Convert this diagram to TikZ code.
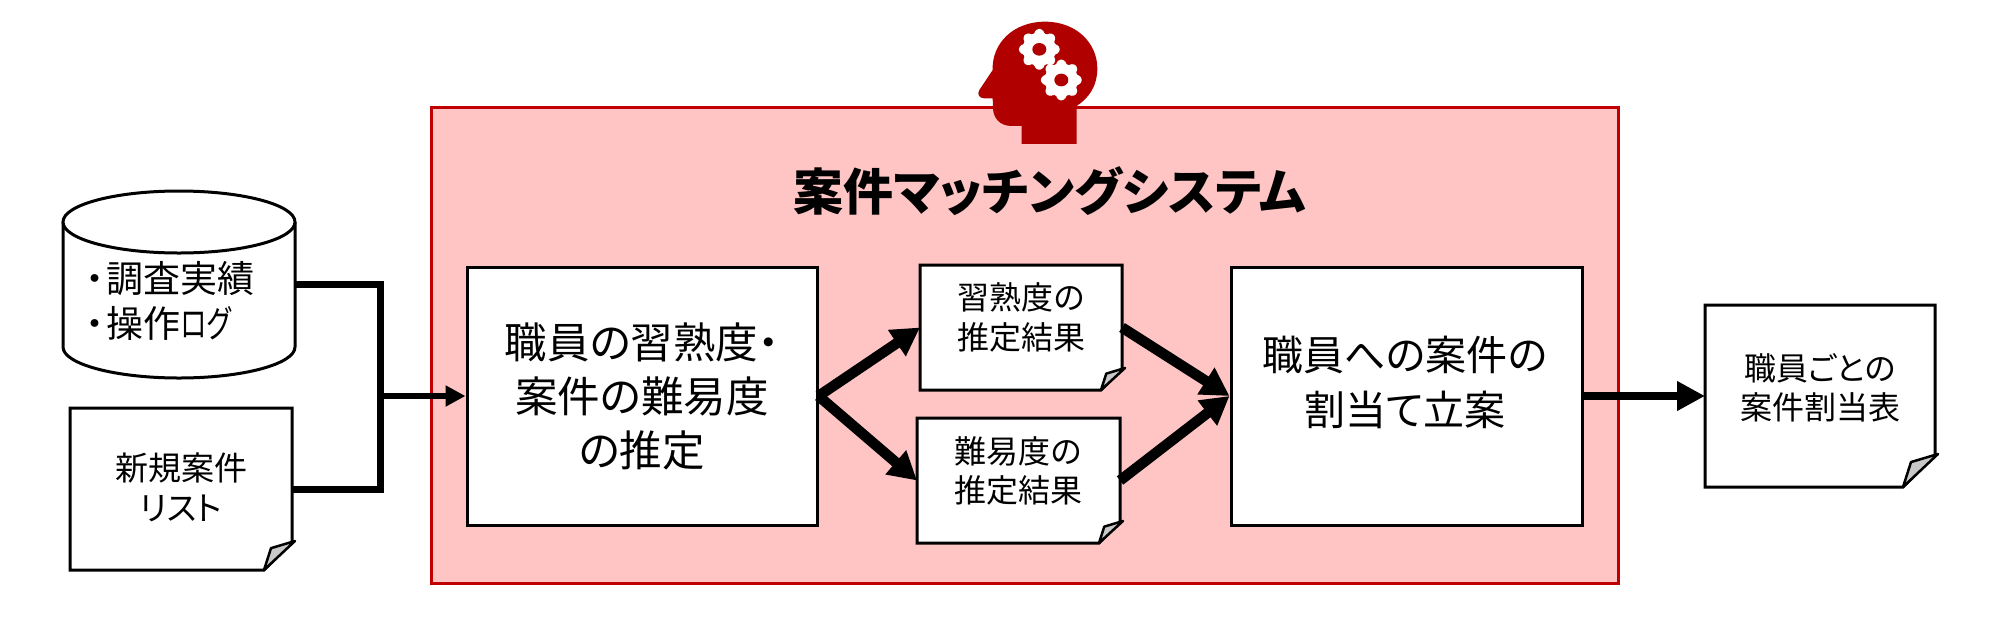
\documentclass[tikz,border=0pt]{standalone}
\usepackage{graphicx}
\usepackage{fontspec}
\usetikzlibrary{arrows.meta,calc}
\setmainfont{Noto Sans CJK JP}[RawFeature=+palt]
\definecolor{redline}{HTML}{C00000}
\definecolor{redfill}{HTML}{FFC5C5}
\definecolor{headred}{HTML}{B00000}
\definecolor{foldgrey}{HTML}{C8C8C8}
\tikzset{
  blockline/.style={draw=black,line width=3pt},
  procbox/.style={blockline,fill=white,inner sep=0pt},
  anchorbox/.style={inner sep=0pt,outer sep=0pt},
  bigtext/.style={inner sep=0pt,align=center,font=\fontsize{42.5}{54}\selectfont},
  plantext/.style={inner sep=0pt,align=center,font=\fontsize{41}{55}\selectfont},
  midtext/.style={inner sep=0pt,align=left,font=\fontsize{37}{45}\selectfont},
  smalltext/.style={inner sep=0pt,align=center,font=\fontsize{32}{39.5}\selectfont},
  listtext/.style={inner sep=0pt,align=center,font=\fontsize{33}{39.5}\selectfont},
  titletext/.style={inner sep=0pt,font=\fontsize{50}{56}\selectfont\bfseries},
  trunk/.style={line width=7pt,line join=miter},
  thinarrow/.style={line width=6pt,-{Triangle[length=20pt,width=20pt]}},
  fatarrow/.style={line width=10.5pt,-{Triangle[length=28pt,width=30pt]}},
  outarrow/.style={line width=8.5pt,-{Triangle[length=28pt,width=28pt]}}
}
% name, x1, y1, x2, y2, cut
\newcommand{\docnode}[6]{%
  \pgfmathsetmacro{\dw}{#4-#2}\pgfmathsetmacro{\dh}{#5-#3}%
  \pgfmathsetmacro{\dcx}{(#2+#4)/2}\pgfmathsetmacro{\dcy}{(#3+#5)/2}%
  \node[anchorbox,minimum width=\dw pt,minimum height=\dh pt] (#1) at (\dcx,\dcy) {};
  \draw[blockline,fill=white,line join=miter]
    (#1.north west) -- (#1.north east) -- ([yshift=#6 pt]#1.south east)
    -- ([xshift=-#6 pt]#1.south east) -- (#1.south west) -- cycle;
  \draw[line width=2.5pt,fill=foldgrey,line join=round]
    ([xshift=-#6 pt]#1.south east) -- ([xshift=3pt,yshift=#6 pt+1pt]#1.south east)
    -- ([xshift=-#6 pt+0.25*#6 pt,yshift=0.78*#6 pt]#1.south east) -- cycle;
}
\begin{document}
\begin{tikzpicture}[x=1pt,y=-1pt]
\useasboundingbox[fill=white] (0,0) rectangle (2007,619);

% system frame
\node[anchorbox,draw=redline,line width=3pt,fill=redfill,minimum width=1187pt,minimum height=476pt] (frame) at (1024.5,345) {};

% head icon
\begin{scope}[shift={(950,0)},x=0.3333pt,y=-0.3333pt]
  \fill[headred] (380,432) -- (215,432) -- (215,378) -- (185,378)
    .. controls (150,378) and (130,355) .. (129,325)
    -- (128,295) -- (103,295)
    .. controls (88,295) and (80,283) .. (88,270)
    -- (128,210)
    .. controls (125,130) and (190,65) .. (285,65)
    .. controls (380,65) and (442,130) .. (442,205)
    .. controls (442,260) and (415,295) .. (380,318) -- cycle;
  \foreach \gx/\gy in {268/148,334/240}{
    \fill[white,rounded corners=3pt] \foreach \k in {0,...,7}{
      \ifnum\k=0 ($(\gx,\gy)+(\k*45-15:49)$) \else -- ($(\gx,\gy)+(\k*45-15:49)$) \fi
      -- ($(\gx,\gy)+(\k*45-10:62)$) -- ($(\gx,\gy)+(\k*45+10:62)$) -- ($(\gx,\gy)+(\k*45+15:49)$)
    } -- cycle;
    \fill[headred] (\gx,\gy) ellipse [x radius=21,y radius=19];
  }
\end{scope}

\node[titletext] (title) at (1050,191) {案件マッチングシステム};

% cylinder
\node[anchorbox,minimum width=232pt,minimum height=187pt] (cyl) at (179,284.5) {};
\draw[blockline,fill=white,line join=round] (63,222) -- (63,347)
  .. controls (63,364) and (115,378) .. (179,378)
  .. controls (243,378) and (295,364) .. (295,347) -- (295,222);
\draw[blockline,fill=white] (179,222) ellipse [x radius=116,y radius=31];
\node[midtext,anchor=west] (cyltext) at (86,300.5) {・\hspace{2pt}調査実績\\・\hspace{2pt}操作\scalebox{0.72}[1]{ログ}};

% documents
\docnode{list}{70}{408}{292}{570}{28}
\node[listtext] (listlabel) at (181,487.5) {新規案件\\リスト};
\docnode{doca}{920}{265}{1122}{390}{21}
\node[smalltext] (docatext) at (1021,317.5) {習熟度の\\推定結果};
\docnode{docb}{917}{418}{1120}{543}{21}
\node[smalltext] (docbtext) at (1018,471) {難易度の\\推定結果};
\docnode{out}{1705}{305}{1935}{487}{32}
\node[smalltext] (outtext) at (1820,388) {職員ごとの\\案件割当表};

% process boxes
\node[procbox,minimum width=350pt,minimum height=258pt] (est) at (642,396) {};
\node[bigtext] (esttext) at (642,396) {職員の習熟度・\\案件の難易度\\の推定};
\node[procbox,minimum width=351pt,minimum height=258pt] (plan) at (1406.5,396) {};
\node[plantext] (plantext) at (1405,382) {職員への案件の\\割当て立案};

% connectors
\coordinate (join) at (380,396);
\draw[trunk] (cyl.east) -| (join) |- (list.east);
\draw[thinarrow] (join) -- (est.west);
\draw[fatarrow] (est.east) -- (doca.west);
\draw[fatarrow] (est.east) -- (docb.west);
\draw[fatarrow] (doca.east) -- (plan.west);
\draw[fatarrow] (docb.east) -- (plan.west);
\draw[outarrow] (plan.east) -- (out.west);
\end{tikzpicture}
\end{document}
